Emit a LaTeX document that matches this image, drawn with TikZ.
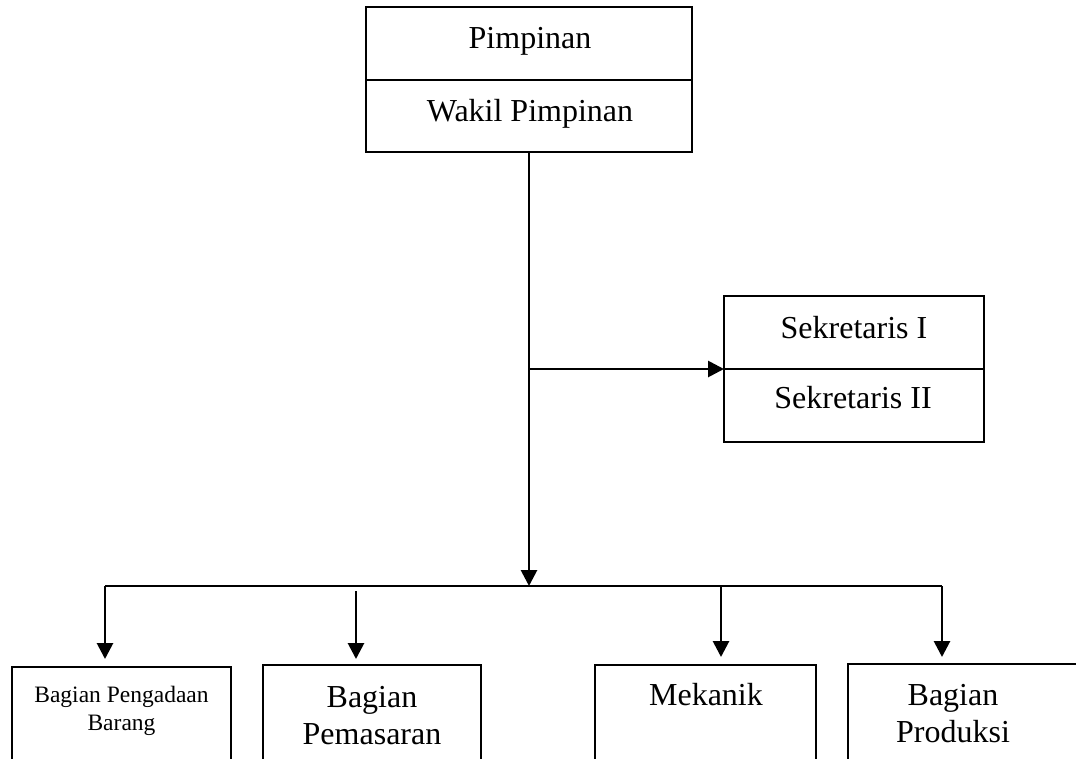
\documentclass[tikz,border=0pt]{standalone}
\usepackage{fontspec}
\setmainfont{Liberation Serif}
\usetikzlibrary{arrows.meta}
\begin{document}
\begin{tikzpicture}[x=1pt,y=-1pt,
  box/.style={draw, line width=2.5pt, anchor=north west, inner sep=0pt, outer sep=0pt},
  lbl/.style={anchor=base, inner sep=0pt, font=\fontsize{32}{38}\selectfont},
  smalllbl/.style={anchor=base, inner sep=0pt, font=\fontsize{23.5}{28}\selectfont},
  conn/.style={line width=2.8pt},
  arr/.style={conn, -{Triangle[width=16pt,length=16pt]}}]
\useasboundingbox (0,0) rectangle (1076,758);
\clip (0,0) rectangle (1076,758);
% top boxes
\node[box, minimum width=326pt, minimum height=73pt] (p) at (366,7) {};
\node[box, minimum width=326pt, minimum height=72pt] (w) at (366,80) {};
\node[lbl] (pt) at (530,48) {Pimpinan};
\node[lbl] (wt) at (530,121) {Wakil Pimpinan};
% secretaries
\node[box, minimum width=260pt, minimum height=73pt] (s1) at (724,296) {};
\node[box, minimum width=260pt, minimum height=73pt] (s2) at (724,369) {};
\node[lbl] (s1t) at (854,338) {Sekretaris I};
\node[lbl] (s2t) at (853,408) {Sekretaris II};
% bottom boxes
\node[box, minimum width=219pt, minimum height=150pt] (b1) at (12,667) {};
\node[box, minimum width=218pt, minimum height=150pt] (b2) at (263,665) {};
\node[box, minimum width=221pt, minimum height=150pt] (b3) at (595,665) {};
\node[box, minimum width=260pt, minimum height=150pt] (b4) at (848,664) {};
\node[smalllbl] (b1a) at (121.5,702) {Bagian Pengadaan};
\node[smalllbl] (b1b) at (121.5,730) {Barang};
\node[lbl] (b2a) at (372,707) {Bagian};
\node[lbl] (b2b) at (372,744) {Pemasaran};
\node[lbl] (b3a) at (706,705) {Mekanik};
\node[lbl] (b4a) at (953,705) {Bagian};
\node[lbl] (b4b) at (953,742) {Produksi};
% connectors
\coordinate (busL) at (105,586);
\coordinate (busR) at (942,586);
\coordinate (j2) at (356,586);
\coordinate (j3) at (721,586);
\draw[arr] (w.south) -- (w.south |- busL);
\draw[arr] (w.south |- s2.north west) -- (s2.north west);
\draw[conn] (busL) -- (busR);
\draw[arr, shorten >=8pt] (busL) -- (busL |- b1.north);
\draw[arr, shorten <=5pt, shorten >=6pt] (j2) -- (j2 |- b2.north);
\draw[arr, shorten >=8pt] (j3) -- (j3 |- b3.north);
\draw[arr, shorten >=7pt] (busR) -- (busR |- b4.north);
\end{tikzpicture}
\end{document}
